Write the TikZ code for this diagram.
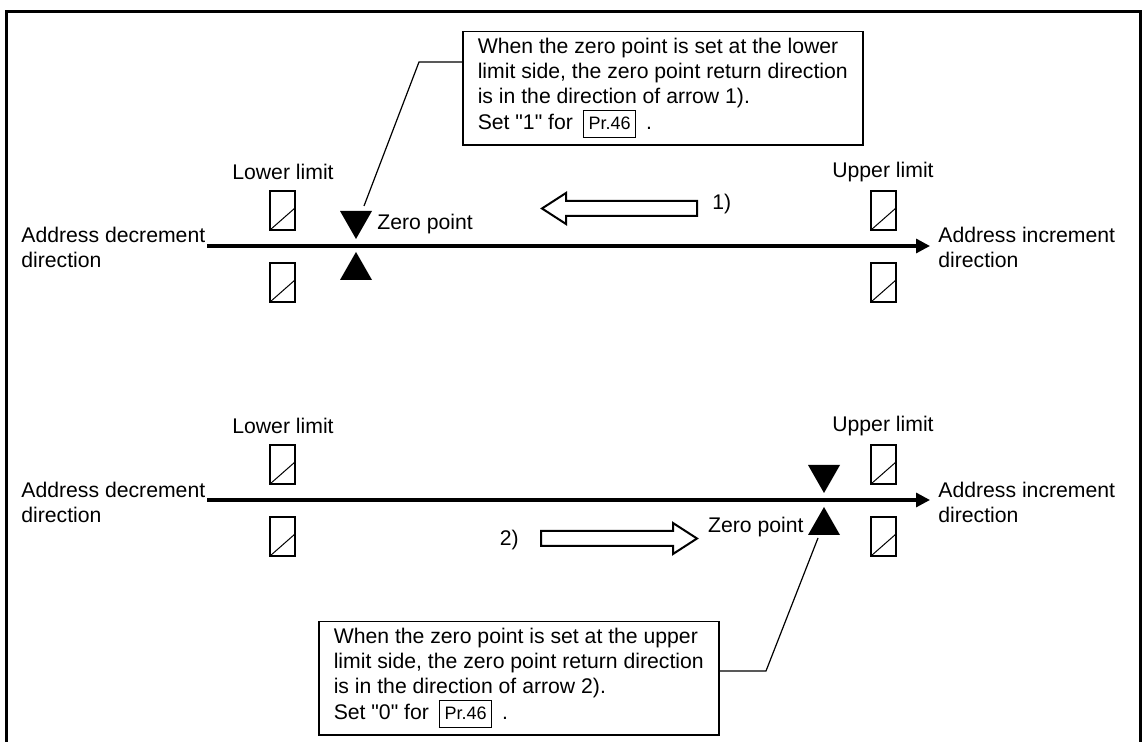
\documentclass[tikz,border=0pt]{standalone}
\usepackage{fontspec}
\setmainfont{Liberation Sans}[Ligatures=TeXOff]
\usetikzlibrary{arrows.meta,calc}
\newcommand\prbox[1]{{\setlength\fboxsep{2.2pt}\setlength\fboxrule{0.6pt}\fbox{\rule[-1.5pt]{0pt}{8.5pt}\fontsize{9}{9}\selectfont #1}}}
\begin{document}
\begin{tikzpicture}[x=0.5pt,y=-0.5pt,
  txt/.style={inner sep=0pt,font=\fontsize{10.6}{12.5}\selectfont,align=left},
  callout/.style={draw,line width=0.75pt,minimum width=200pt,minimum height=55pt,inner xsep=0pt,
    font=\fontsize{10.6}{12.5}\selectfont,align=left},
  axis/.style={line width=1.6pt,-{Triangle[length=7pt,width=7pt]}},
  lead/.style={line width=0.6pt},
  frameline/.style={line width=1.5pt},
  rectline/.style={line width=1pt},
  hollow/.style={line width=1pt,line join=miter},
  tri/.style={fill=black}]
\useasboundingbox (0,0) rectangle (1142,742);
% frame
\draw[frameline] (6.5,745) -- (6.5,12) -- (1140.5,12) -- (1140.5,745);

% ---------- top section ----------
\node[txt,anchor=west] (dec1) at (21,247) {Address decrement\\direction};
\node[txt,anchor=west] (inc1) at (938,247) {Address increment\\direction};
\coordinate (l1s) at (207,246);
\coordinate (l1e) at (930,246);
\draw[axis] (l1s) -- (l1e);
\node[txt] (ll1) at (283,172) {Lower limit};
\node[txt] (ul1) at (883,172) {Upper limit};
\foreach \x/\y in {270/191,270/263,871/191,871/263,270/445,270/517,871/445,871/517}{
  \draw[rectline] (\x,\y) rectangle ++(25,39);
  \draw[line width=0.5pt] (\x,\y+39) -- ++(25,-22);
}
% zero point triangles
\fill[tri] (340,211) -- (372,211) -- (356,239) -- cycle;
\fill[tri] (356,252) -- (372,280) -- (340,280) -- cycle;
\node[txt,anchor=west] (zp1) at (377,224) {Zero point};
% hollow arrow 1
\draw[hollow] (542,208.5) -- (566,193) -- (566,201) -- (697,201) -- (697,216) -- (566,216) -- (566,224) -- cycle;
\node[txt,anchor=west] (a1) at (712,204) {1)};
% callout 1
\node[callout,anchor=north west] (c1) at (462,31) {When the zero point is set at the lower\\limit side, the zero point return direction\\is in the direction of arrow 1).\\[0.5pt]Set "1" for\hspace{5pt}\prbox{Pr.46}\hspace{5pt}.};
\coordinate (k1) at (419,62);
\coordinate (p1) at (364,206);
\draw[lead] ($(c1.north west)+(0,31)$) -- (k1) -- (p1);

% ---------- bottom section ----------
\node[txt,anchor=west] (dec2) at (21,502) {Address decrement\\direction};
\node[txt,anchor=west] (inc2) at (938,502) {Address increment\\direction};
\coordinate (l2s) at (207,500);
\coordinate (l2e) at (930,500);
\draw[axis] (l2s) -- (l2e);
\node[txt] (ll2) at (283,426) {Lower limit};
\node[txt] (ul2) at (883,426) {Upper limit};
\fill[tri] (808,465) -- (840,465) -- (824,493) -- cycle;
\fill[tri] (824,507) -- (840,535) -- (808,535) -- cycle;
\node[txt,anchor=east] (zp2) at (804,527) {Zero point};
% hollow arrow 2
\draw[hollow] (697,538.5) -- (673,523) -- (673,531) -- (541,531) -- (541,546) -- (673,546) -- (673,554) -- cycle;
\node[txt,anchor=east] (a2) at (519,540) {2)};
% callout 2
\node[callout,anchor=north west] (c2) at (318,621) {When the zero point is set at the upper\\limit side, the zero point return direction\\is in the direction of arrow 2).\\[0.5pt]Set "0" for\hspace{5pt}\prbox{Pr.46}\hspace{5pt}.};
\coordinate (k2) at (766,671);
\coordinate (p2) at (818,538);
\draw[lead] ($(c2.north east)+(0,50)$) -- (k2) -- (p2);
\end{tikzpicture}
\end{document}
